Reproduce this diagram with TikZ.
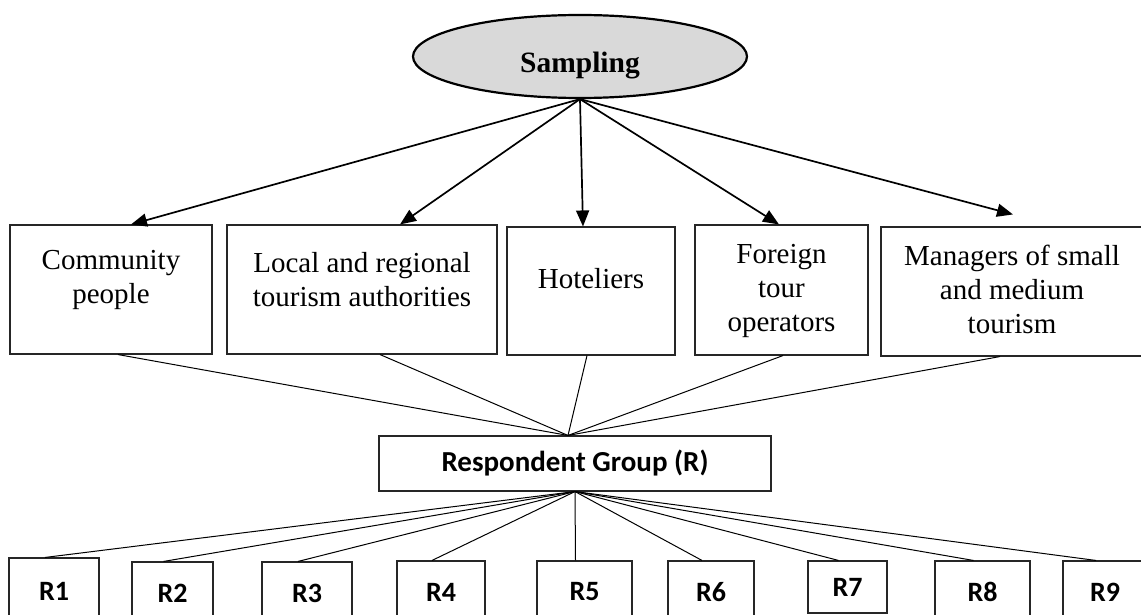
\documentclass[tikz,border=0pt]{standalone}
\usepackage{fontspec}
\setmainfont{Liberation Serif}
\newfontfamily\calibri{Carlito}
\usetikzlibrary{shapes.geometric,arrows.meta,calc}
\begin{document}
\begin{tikzpicture}[x=1pt,y=-1pt,
  box/.style={draw=black!85, line width=1.1pt, rectangle, inner sep=0pt},
  txt/.style={font=\fontsize{29}{34}\selectfont, align=center, inner sep=0pt},
  rbox/.style={box, font=\calibri\bfseries\fontsize{28}{32}\selectfont, minimum height=62pt},
  arr/.style={line width=1.7pt, -{Triangle[length=16pt,width=13pt]}},
  link/.style={line width=1pt}]
\useasboundingbox (0,0) rectangle (1141,615);
\clip (0,0) rectangle (1141,615);

% top ellipse
\node[ellipse, draw, line width=2.2pt, fill=gray!30, minimum width=334pt, minimum height=83pt, inner sep=0pt] (samp) at (580,56.5) {};
\node[font=\bfseries\fontsize{29.5}{34}\selectfont, inner sep=0pt] (samptxt) at (580,66) {Sampling};

% first row boxes
\node[box, minimum width=202pt, minimum height=129pt] (cp) at (111,289.5) {};
\node[box, minimum width=270pt, minimum height=129pt] (lr) at (362,289.5) {};
\node[box, minimum width=168pt, minimum height=128pt] (ho) at (591,291) {};
\node[box, minimum width=173pt, minimum height=130pt] (fo) at (781.5,290) {};
\node[box, minimum width=262pt, minimum height=129pt] (ma) at (1012,291.5) {};

\node[txt] (cpt) at (111,280) {Community\\people};
\node[txt] (lrt) at (362,280) {Local and regional\\tourism authorities};
\node[txt] (hot) at (591,279) {Hoteliers};
\node[txt] (fot) at (781.5,291) {Foreign\\tour\\operators};
\node[txt] (mat) at (1012,289) {Managers of small\\and medium\\tourism};

% arrows from sampling
\draw[arr] (samp.south) -- ($(cp.north)+(20,0)$);
\draw[arr] (samp.south) -- ($(lr.north)+(38,0)$);
\draw[arr] (samp.south) -- ($(ho.north)+(-8,0)$);
\draw[arr] (samp.south) -- ($(fo.north)+(-2.5,0)$);
\draw[arr] (samp.south) -- ($(ma.north)+(1,-12)$);

% respondent group
\node[box, minimum width=392pt, minimum height=55pt, font=\calibri\bfseries\fontsize{29}{32}\selectfont] (rg) at (575,463.5) {Respondent Group (R)};
\coordinate (rgtop) at ($(rg.north)+(-7,0)$);

\draw[link] ($(cp.south)+(7,0)$) -- (rgtop);
\draw[link] ($(lr.south)+(18,0)$) -- (rgtop);
\draw[link] ($(ho.south)+(-4,0)$) -- (rgtop);
\draw[link] ($(fo.south)+(1.5,0)$) -- (rgtop);
\draw[link] ($(ma.south)+(-12,0)$) -- (rgtop);

% respondent boxes
\node[rbox, minimum width=90pt, minimum height=66pt] (r1) at (54,591) {R1};
\node[rbox, minimum width=81pt] (r2) at (172.5,593) {R2};
\node[rbox, minimum width=90pt] (r3) at (307,593) {R3};
\node[rbox, minimum width=88pt] (r4) at (441,592) {R4};
\node[rbox, minimum width=95pt] (r5) at (584.5,592) {R5};
\node[rbox, minimum width=86pt] (r6) at (711,592) {R6};
\node[rbox, minimum width=79pt, minimum height=52pt] (r7) at (847.5,587) {R7};
\node[rbox, minimum width=95pt] (r8) at (982.5,592) {R8};
\node[rbox, minimum width=84pt] (r9) at (1105,592) {R9};

\foreach \r in {r1,r2,r3,r4,r5,r6,r7,r8,r9}{
  \draw[link] (rg.south) -- ($(\r.north)+(-9,0)$);
}
\end{tikzpicture}
\end{document}
